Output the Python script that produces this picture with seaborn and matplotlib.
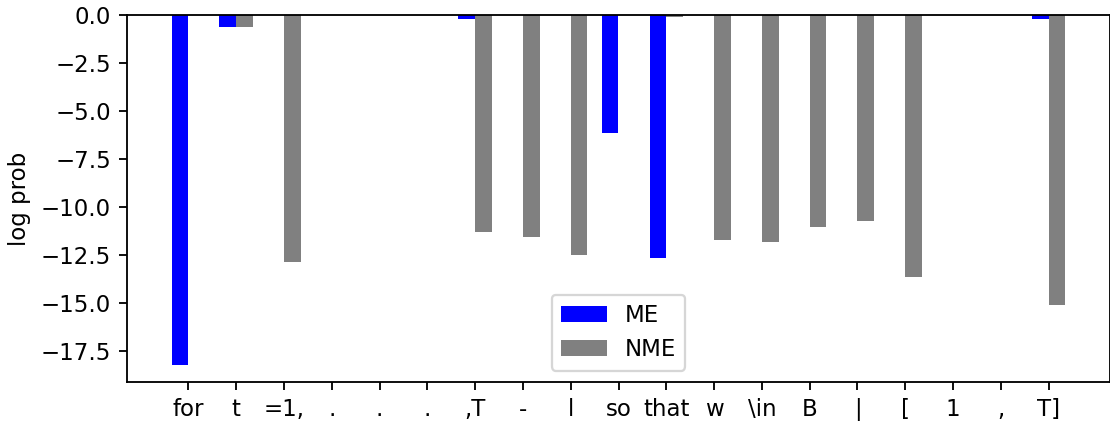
import numpy as np
import pandas as pd
import matplotlib
matplotlib.use("Agg")
import matplotlib.pyplot as plt
import seaborn as sns

tokens = ["for", "t", "=1,", ".", ".", ".", ",T", "-", "l", "so", "that",
          "w", r"\in", "B", "|", "[", "1", ",", "T]"]
me_vals = [-18.23, -0.63, 0.0, 0.0, 0.0, 0.0, -0.2, 0.0, 0.0, -6.17, -12.7,
           0.0, 0.0, 0.0, 0.0, 0.0, 0.0, 0.0, -0.2]
nme_vals = [0.0, -0.6, -12.9, 0.0, 0.0, 0.0, -11.34, -11.6, -12.54, 0.0, -0.08,
            -11.76, -11.86, -11.08, -10.76, -13.69, 0.0, 0.0, -15.15]
series = ["ME", "NME"]
colors = {"ME": "blue", "NME": "gray"}

pos = np.arange(len(tokens))
df = pd.concat([
    pd.DataFrame({"pos": pos, "logp": me_vals, "model": "ME"}),
    pd.DataFrame({"pos": pos, "logp": nme_vals, "model": "NME"}),
], ignore_index=True)

plt.rcParams["font.size"] = 10
DPI = 165
fig = plt.figure(figsize=(1110 / DPI, 424 / DPI), dpi=DPI)
ax = fig.add_axes([127 / 1110, 1 - 382 / 424, (1110 - 127) / 1110, (382 - 15) / 424])

sns.barplot(data=df, x="pos", y="logp", hue="model", hue_order=series,
            palette=colors, saturation=1, width=0.7, native_scale=True,
            errorbar=None, ax=ax, linewidth=0)

ax.set_xticks(pos)
ax.set_xticklabels(tokens)
ax.set_xlabel("")
ax.set_ylabel("log prob")
ax.margins(x=0.05)
ax.autoscale_view()

handles, labels = ax.get_legend_handles_labels()
ax.legend(handles, labels, loc="lower center")

fig.savefig("out.png", dpi=DPI)
